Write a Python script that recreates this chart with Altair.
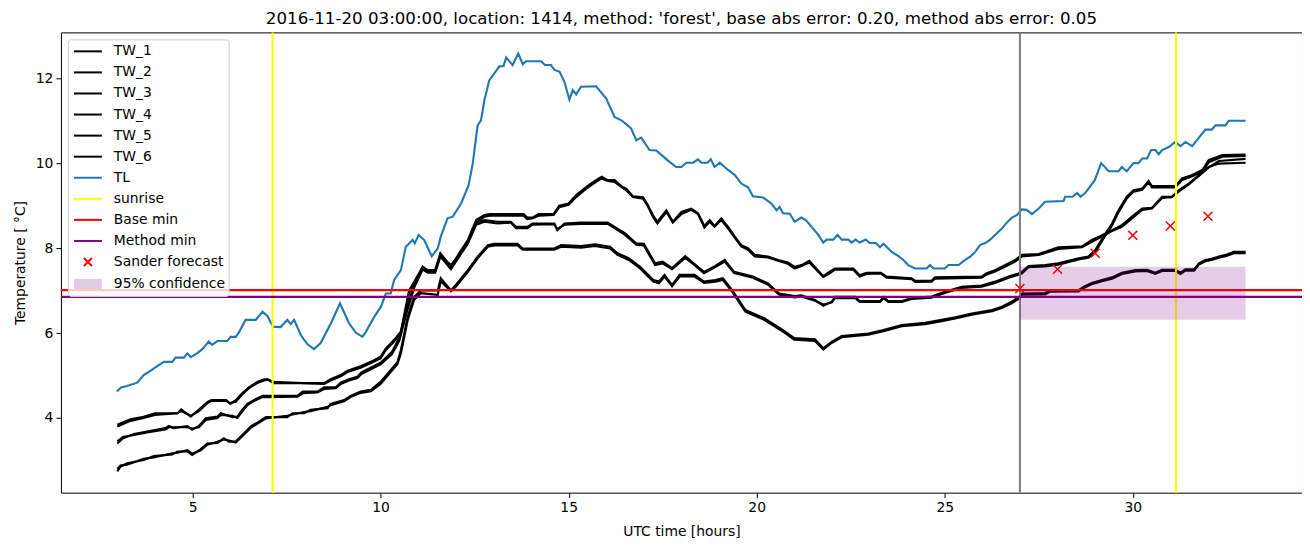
import altair as alt
import pandas as pd

# ---------------- data ----------------
hours_a = [3.0, 3.35, 3.7, 4.0, 4.6, 4.7, 4.95, 5.17, 5.4, 5.5,
           5.9, 6.0, 6.15, 6.32, 6.5, 6.72, 6.9, 7.0, 7.15, 8.5,
           8.67, 8.94, 9.12, 9.47, 9.83, 10.0, 10.14, 10.36, 10.54, 10.67,
           10.76, 10.89, 11.12, 11.25, 11.45, 11.59, 11.87, 12.09, 12.32, 12.54,
           12.76, 12.9, 13.8, 13.9, 14.05, 14.2, 14.6, 14.75, 15.0, 15.2,
           15.5, 15.73, 15.88, 16.04, 16.22, 16.4, 16.53, 16.71, 16.98, 17.11,
           17.24, 17.36, 17.6, 17.77, 18.0, 18.26, 18.44, 18.61, 18.75, 18.88,
           19.06, 19.24, 19.42, 19.59, 19.77, 19.95, 20.3, 20.57, 20.83, 21.01,
           21.19, 21.4, 21.77, 21.9, 22.08, 22.57, 22.74, 22.92, 23.3, 23.46,
           24.12, 24.21, 24.65, 24.74, 25.98, 26.1, 26.34, 26.6, 26.87, 27.05,
           27.5, 28.02, 28.65, 28.91, 29.13, 29.45, 29.71, 29.98, 30.25, 30.51,
           30.78, 31.04, 31.22, 31.49, 31.76, 32.02, 32.29, 33.0]
tw_1 = [3.84, 3.97, 4.03, 4.11, 4.11, 4.2, 4.03, 4.2, 4.38, 4.42,
        4.42, 4.33, 4.42, 4.58, 4.72, 4.85, 4.91, 4.91, 4.82, 4.82,
        4.91, 5.01, 5.11, 5.22, 5.36, 5.44, 5.64, 5.84, 6.03, 6.62,
        7.01, 7.2, 7.56, 7.48, 7.48, 7.88, 7.56, 7.88, 8.19, 8.66,
        8.78, 8.8, 8.8, 8.72, 8.72, 8.8, 8.8, 9.0, 9.05, 9.25,
        9.46, 9.6, 9.68, 9.6, 9.6, 9.46, 9.4, 9.22, 9.2, 9.01,
        8.78, 8.62, 8.89, 8.62, 8.85, 8.93, 8.82, 8.52, 8.66, 8.52,
        8.7, 8.5, 8.27, 8.07, 8.0, 7.84, 7.8, 7.72, 7.66, 7.56,
        7.6, 7.7, 7.34, 7.42, 7.52, 7.52, 7.36, 7.42, 7.42, 7.33,
        7.29, 7.23, 7.23, 7.31, 7.33, 7.4, 7.48, 7.6, 7.72, 7.84,
        7.86, 8.02, 8.04, 8.19, 8.28, 8.42, 8.54, 8.74, 8.93, 8.95,
        9.21, 9.21, 9.36, 9.52, 9.72, 9.91, 9.99, 10.01]
tw_2 = [3.8, 3.93, 4.0, 4.07, 4.11, 4.16, 4.05, 4.16, 4.35, 4.4,
        4.4, 4.35, 4.38, 4.55, 4.7, 4.82, 4.88, 4.9, 4.85, 4.8,
        4.88, 4.98, 5.08, 5.18, 5.33, 5.4, 5.6, 5.8, 6.0, 6.55,
        6.95, 7.15, 7.5, 7.44, 7.44, 7.82, 7.6, 7.84, 8.15, 8.6,
        8.74, 8.76, 8.76, 8.68, 8.7, 8.76, 8.78, 8.96, 9.02, 9.2,
        9.42, 9.56, 9.64, 9.58, 9.56, 9.44, 9.36, 9.2, 9.16, 8.98,
        8.74, 8.58, 8.85, 8.6, 8.8, 8.9, 8.8, 8.48, 8.62, 8.5,
        8.66, 8.46, 8.24, 8.04, 7.96, 7.8, 7.78, 7.7, 7.63, 7.52,
        7.58, 7.66, 7.32, 7.38, 7.49, 7.49, 7.33, 7.39, 7.4, 7.3,
        7.27, 7.2, 7.21, 7.28, 7.3, 7.37, 7.45, 7.56, 7.68, 7.8,
        7.84, 7.98, 8.02, 8.15, 8.25, 8.4, 8.5, 8.7, 8.9, 8.93,
        9.18, 9.2, 9.33, 9.5, 9.7, 9.9, 10.05, 10.1]

hours_b = [3.0, 3.15, 3.44, 3.79, 4.28, 4.37, 4.5, 4.86, 4.99, 5.17,
           5.35, 5.66, 5.75, 6.06, 6.19, 6.32, 6.46, 6.63, 6.86, 7.79,
           7.93, 8.32, 8.5, 8.81, 8.94, 9.16, 9.38, 9.5, 10.0, 10.3,
           10.5, 10.7, 10.9, 11.12, 11.25, 11.45, 11.59, 11.87, 12.09, 12.32,
           12.54, 12.76, 13.11, 13.46, 13.6, 13.9, 14.04, 14.62, 14.7, 14.89,
           15.33, 16.04, 16.22, 16.5, 16.8, 17.0, 17.3, 17.5, 17.75, 18.1,
           18.3, 18.6, 18.9, 19.15, 19.4, 19.9, 20.3, 20.6, 21.01, 21.19,
           21.55, 21.77, 22.0, 22.08, 22.62, 22.74, 23.28, 23.37, 23.5, 23.86,
           24.12, 24.65, 25.0, 25.45, 25.98, 26.34, 26.7, 26.96, 27.05, 27.23,
           27.67, 28.02, 28.56, 28.82, 29.0, 29.22, 29.45, 29.62, 29.84, 30.02,
           30.25, 30.42, 30.51, 31.13, 31.31, 31.58, 31.85, 32.02, 32.38, 33.0]
tw_3 = [3.4, 3.52, 3.62, 3.68, 3.76, 3.81, 3.76, 3.81, 3.72, 3.81,
        3.99, 4.03, 4.11, 4.02, 4.03, 4.19, 4.33, 4.42, 4.52, 4.52,
        4.62, 4.62, 4.72, 4.72, 4.83, 4.91, 4.97, 5.08, 5.3, 5.55,
        5.9, 6.6, 7.15, 7.56, 7.45, 7.45, 7.85, 7.52, 7.85, 8.15,
        8.6, 8.66, 8.62, 8.62, 8.5, 8.5, 8.58, 8.58, 8.42, 8.58,
        8.6, 8.6, 8.5, 8.35, 8.11, 8.1, 7.64, 7.68, 7.53, 7.81,
        7.66, 7.44, 7.58, 7.72, 7.44, 7.33, 7.17, 6.93, 6.87, 6.89,
        6.78, 6.64, 6.74, 6.85, 6.85, 6.75, 6.75, 6.85, 6.75, 6.75,
        6.83, 6.86, 6.97, 7.09, 7.12, 7.21, 7.33, 7.4, 7.44, 7.58,
        7.6, 7.64, 7.76, 7.8, 7.95, 8.27, 8.58, 8.89, 9.21, 9.36,
        9.4, 9.58, 9.46, 9.46, 9.64, 9.72, 9.84, 10.07, 10.19, 10.2]
tw_4 = [3.45, 3.55, 3.6, 3.66, 3.73, 3.78, 3.78, 3.78, 3.75, 3.78,
        3.95, 4.0, 4.07, 4.05, 4.0, 4.15, 4.3, 4.4, 4.49, 4.5,
        4.58, 4.6, 4.68, 4.7, 4.8, 4.88, 4.94, 5.04, 5.26, 5.5,
        5.82, 6.5, 7.08, 7.5, 7.42, 7.42, 7.8, 7.5, 7.8, 8.1,
        8.55, 8.62, 8.58, 8.6, 8.47, 8.47, 8.55, 8.56, 8.45, 8.55,
        8.57, 8.57, 8.47, 8.31, 8.08, 8.06, 7.6, 7.64, 7.5, 7.77,
        7.63, 7.41, 7.55, 7.68, 7.41, 7.3, 7.14, 6.9, 6.84, 6.86,
        6.76, 6.67, 6.72, 6.82, 6.82, 6.73, 6.73, 6.82, 6.73, 6.73,
        6.8, 6.83, 6.94, 7.06, 7.09, 7.18, 7.3, 7.37, 7.4, 7.55,
        7.57, 7.61, 7.73, 7.77, 7.9, 8.22, 8.53, 8.84, 9.17, 9.33,
        9.37, 9.55, 9.43, 9.43, 9.6, 9.69, 9.8, 10.02, 10.15, 10.17]

hours_c = [3.0, 3.08, 3.26, 3.7, 3.97, 4.46, 4.6, 4.86, 4.99, 5.21,
           5.39, 5.66, 5.83, 5.97, 6.15, 6.37, 6.55, 6.72, 6.95, 7.52,
           7.66, 7.97, 8.14, 8.59, 8.67, 9.03, 9.2, 9.47, 9.74, 10.0,
           10.27, 10.45, 10.54, 10.72, 10.89, 11.07, 11.52, 11.6, 11.87, 12.0,
           12.32, 12.58, 12.85, 13.02, 13.64, 13.78, 14.62, 14.8, 15.33, 15.7,
           16.1, 16.3, 16.6, 16.9, 17.25, 17.4, 17.55, 17.75, 17.95, 18.35,
           18.6, 18.9, 19.1, 19.35, 19.7, 20.2, 20.7, 21.0, 21.55, 21.77,
           22.0, 22.26, 22.97, 23.37, 23.86, 24.48, 24.92, 25.28, 25.72, 26.26,
           26.52, 26.78, 27.0, 27.05, 27.67, 27.8, 28.56, 28.7, 28.91, 29.18,
           29.45, 29.71, 30.07, 30.38, 30.6, 30.78, 31.13, 31.27, 31.4, 31.63,
           31.76, 31.93, 32.1, 32.29, 32.47, 32.69, 33.0]
tw_5 = [2.74, 2.85, 2.93, 3.01, 3.1, 3.14, 3.21, 3.21, 3.13, 3.26,
        3.4, 3.41, 3.52, 3.44, 3.45, 3.64, 3.8, 3.89, 4.02, 4.02,
        4.11, 4.11, 4.19, 4.23, 4.33, 4.42, 4.52, 4.62, 4.66, 4.85,
        5.13, 5.32, 5.6, 6.38, 6.85, 7.0, 7.0, 7.29, 7.01, 7.13,
        7.48, 7.8, 8.07, 8.1, 8.1, 7.99, 7.99, 8.07, 8.05, 8.09,
        8.03, 7.88, 7.76, 7.56, 7.25, 7.21, 7.37, 7.13, 7.37, 7.37,
        7.21, 7.25, 7.29, 7.01, 6.54, 6.35, 6.07, 5.88, 5.85, 5.64,
        5.8, 5.93, 5.99, 6.07, 6.19, 6.24, 6.31, 6.37, 6.46, 6.54,
        6.62, 6.74, 6.86, 6.93, 6.94, 7.01, 7.01, 7.09, 7.18, 7.25,
        7.31, 7.42, 7.48, 7.49, 7.42, 7.49, 7.49, 7.42, 7.5, 7.5,
        7.64, 7.72, 7.75, 7.8, 7.84, 7.91, 7.91]
tw_6 = [2.8, 2.88, 2.9, 3.04, 3.07, 3.17, 3.18, 3.24, 3.16, 3.23,
        3.37, 3.44, 3.49, 3.47, 3.42, 3.61, 3.77, 3.86, 3.99, 4.05,
        4.08, 4.14, 4.16, 4.26, 4.3, 4.39, 4.49, 4.59, 4.63, 4.8,
        5.08, 5.27, 5.52, 6.3, 6.78, 6.94, 6.9, 7.22, 6.98, 7.09,
        7.44, 7.76, 8.03, 8.06, 8.06, 7.96, 7.96, 8.03, 8.01, 8.05,
        7.99, 7.84, 7.72, 7.52, 7.21, 7.17, 7.33, 7.1, 7.33, 7.33,
        7.18, 7.21, 7.25, 6.97, 6.5, 6.31, 6.03, 5.84, 5.81, 5.61,
        5.77, 5.9, 5.96, 6.04, 6.16, 6.21, 6.28, 6.34, 6.43, 6.51,
        6.59, 6.7, 6.82, 6.9, 6.91, 6.97, 6.98, 7.06, 7.15, 7.22,
        7.28, 7.39, 7.45, 7.46, 7.39, 7.46, 7.46, 7.39, 7.47, 7.47,
        7.61, 7.69, 7.72, 7.77, 7.81, 7.88, 7.88]

tl_hours = [2.99, 3.1, 3.26, 3.53, 3.7, 3.88, 4.06, 4.24, 4.46, 4.55,
            4.77, 4.86, 4.95, 5.12, 5.26, 5.43, 5.52, 5.66, 5.92, 6.01,
            6.15, 6.23, 6.41, 6.68, 6.86, 6.99, 7.14, 7.34, 7.52, 7.61,
            7.7, 7.88, 8.05, 8.23, 8.41, 8.68, 8.92, 9.16, 9.34, 9.52,
            9.61, 9.83, 10.01, 10.14, 10.27, 10.36, 10.54, 10.67, 10.85, 10.91,
            11.01, 11.16, 11.36, 11.52, 11.6, 11.78, 11.92, 12.14, 12.34, 12.45,
            12.58, 12.67, 12.76, 12.89, 13.02, 13.16, 13.27, 13.34, 13.51, 13.66,
            13.78, 13.87, 14.27, 14.37, 14.53, 14.62, 14.76, 14.89, 15.02, 15.11,
            15.2, 15.33, 15.73, 16.0, 16.22, 16.4, 16.53, 16.66, 16.8, 16.93,
            17.15, 17.33, 17.51, 17.68, 17.86, 18.0, 18.13, 18.31, 18.44, 18.53,
            18.69, 18.78, 18.88, 19.02, 19.24, 19.42, 19.59, 19.77, 19.9, 20.17,
            20.39, 20.53, 20.61, 20.7, 20.88, 21.01, 21.19, 21.32, 21.46, 21.64,
            21.77, 21.86, 22.04, 22.15, 22.26, 22.44, 22.52, 22.63, 22.74, 22.9,
            23.0, 23.17, 23.28, 23.37, 23.59, 23.77, 23.9, 24.03, 24.21, 24.52,
            24.61, 24.7, 25.0, 25.1, 25.37, 25.54, 25.68, 25.81, 25.94, 26.08,
            26.21, 26.34, 26.52, 26.65, 26.78, 26.92, 27.05, 27.18, 27.32, 27.5,
            27.67, 28.16, 28.2, 28.4, 28.52, 28.61, 28.74, 28.99, 29.16, 29.36,
            29.62, 29.71, 29.84, 30.02, 30.15, 30.25, 30.38, 30.49, 30.6, 30.69,
            30.78, 30.96, 31.13, 31.27, 31.4, 31.58, 31.76, 31.93, 32.1, 32.2,
            32.47, 32.55, 33.0]
tl_values = [4.62, 4.72, 4.75, 4.83, 5.01, 5.11, 5.22, 5.32, 5.32, 5.42,
             5.42, 5.52, 5.43, 5.52, 5.62, 5.8, 5.72, 5.81, 5.81, 5.91,
             5.91, 6.01, 6.31, 6.31, 6.5, 6.4, 6.15, 6.14, 6.31, 6.21,
             6.31, 5.95, 5.74, 5.62, 5.77, 6.23, 6.7, 6.23, 6.01, 5.91,
             6.03, 6.38, 6.62, 6.93, 6.93, 7.25, 7.48, 8.03, 8.19, 8.11,
             8.31, 8.19, 7.81, 7.99, 8.27, 8.7, 8.74, 9.05, 9.48, 9.99,
             10.89, 11.01, 11.48, 11.95, 12.11, 12.28, 12.29, 12.49, 12.31, 12.58,
             12.33, 12.4, 12.4, 12.31, 12.31, 12.2, 12.15, 11.91, 11.5, 11.72,
             11.62, 11.8, 11.81, 11.52, 11.09, 11.01, 10.92, 10.82, 10.54, 10.6,
             10.31, 10.3, 10.16, 10.03, 9.91, 9.91, 10.01, 10.01, 10.09, 10.01,
             10.01, 10.09, 9.91, 10.01, 9.84, 9.72, 9.52, 9.43, 9.22, 9.19,
             9.05, 8.89, 8.97, 8.82, 8.81, 8.62, 8.72, 8.65, 8.5, 8.31,
             8.13, 8.2, 8.2, 8.31, 8.2, 8.2, 8.13, 8.2, 8.13, 8.2,
             8.12, 8.12, 8.02, 8.1, 7.91, 7.81, 7.72, 7.6, 7.52, 7.52,
             7.6, 7.52, 7.52, 7.6, 7.6, 7.72, 7.8, 7.91, 8.07, 8.12,
             8.2, 8.31, 8.46, 8.6, 8.71, 8.78, 8.91, 8.9, 8.8, 8.93,
             9.09, 9.11, 9.21, 9.21, 9.3, 9.21, 9.3, 9.6, 10.0, 9.81,
             9.81, 9.91, 9.81, 10.0, 10.0, 10.11, 10.11, 10.31, 10.31, 10.21,
             10.31, 10.38, 10.5, 10.4, 10.5, 10.4, 10.6, 10.79, 10.79, 10.89,
             10.89, 11.0, 11.0]

sunrise_hours = [7.13, 31.15]
now_hour = [27.0]
base_min = [7.01]
method_min = [6.85]
forecast_hours = [27, 28, 29, 30, 31, 32]
forecast_values = [7.05, 7.5, 7.88, 8.3, 8.52, 8.75]
conf_start = [27.0]
conf_end = [33.0]
conf_low = [6.31]
conf_high = [7.56]

legend_labels = ["TW_1", "TW_2", "TW_3", "TW_4", "TW_5", "TW_6", "TL",
                 "sunrise", "Base min", "Method min", "Sander forecast",
                 "95% confidence"]
legend_colors = ["black"] * 6 + ["#1f77b4", "#ffff00", "#ff0000", "#800080",
                                 "#ff0000", "#e3cbe3"]

TITLE = ("2016-11-20 03:00:00, location: 1414, method: 'forest', "
         "base abs error: 0.20, method abs error: 0.05")
FONT = "DejaVu Sans"
LW = 2.1

# ---------------- tables ----------------
def frame(hours, values, name):
    rows = [{"hour": h, "temp": v, "series": name} for h, v in zip(hours, values)]
    return pd.DataFrame(rows)

tw_df = pd.concat([
    frame(hours_a, tw_1, "TW_1"), frame(hours_a, tw_2, "TW_2"),
    frame(hours_b, tw_3, "TW_3"), frame(hours_b, tw_4, "TW_4"),
    frame(hours_c, tw_5, "TW_5"), frame(hours_c, tw_6, "TW_6"),
], ignore_index=True)
tl_df = frame(tl_hours, tl_values, "TL")
fc_df = frame(forecast_hours, forecast_values, "Sander forecast")
conf_df = pd.DataFrame({"x1": conf_start, "x2": conf_end,
                        "lo": conf_low, "hi": conf_high})

xscale = alt.Scale(domain=[1.5, 34.5], nice=False, zero=False)
yscale = alt.Scale(domain=[2.24, 13.08], nice=False, zero=False)
xaxis = alt.Axis(values=[5, 10, 15, 20, 25, 30], title="UTC time [hours]")
yaxis = alt.Axis(values=[4, 6, 8, 10, 12], title="Temperature [ °C]")

def X(field="hour"):
    return alt.X(f"{field}:Q", scale=xscale, axis=xaxis)

def Y(field="temp"):
    return alt.Y(f"{field}:Q", scale=yscale, axis=yaxis)

# legend symbol paths (unit square scaled by sqrt(size)/2)
line_path = "M-1.75,0H1.75"
cross_path = "M-0.5,-0.5L0.5,0.5M-0.5,0.5L0.5,-0.5"
rect_path = "".join(f"M-1.75,{y}H1.75" for y in
                    ["-0.5", "-0.3", "-0.1", "0.1", "0.3", "0.5"])
legend_shapes = [line_path] * 10 + [cross_path, rect_path]

legend = alt.Legend(
    title=None, orient="none", legendX=7, legendY=7,
    padding=3, fillColor="rgba(255,255,255,0.8)", strokeColor="#cccccc",
    cornerRadius=3, rowPadding=5.1, symbolSize=256, symbolStrokeWidth=2,
    symbolOffset=8, labelOffset=17, labelFont=FONT, labelFontSize=13.9,
    labelColor="black", labelLimit=400,
)

tw_layer = alt.Chart(tw_df).mark_line(color="black", strokeWidth=LW).encode(
    x=X(), y=Y(), detail="series:N", order="hour:Q")
tl_layer = alt.Chart(tl_df).mark_line(color="#1f77b4", strokeWidth=LW).encode(
    x=X(), y=Y(), order="hour:Q")
sun_layer = alt.Chart(pd.DataFrame({"hour": sunrise_hours})).mark_rule(
    color="#ffff00", strokeWidth=LW).encode(x=X())
now_layer = alt.Chart(pd.DataFrame({"hour": now_hour})).mark_rule(
    color="#808080", strokeWidth=LW).encode(x=X())
base_layer = alt.Chart(pd.DataFrame({"temp": base_min})).mark_rule(
    color="#ff0000", strokeWidth=LW).encode(y=Y())
meth_layer = alt.Chart(pd.DataFrame({"temp": method_min})).mark_rule(
    color="#800080", strokeWidth=LW).encode(y=Y())
fc_layer = alt.Chart(fc_df).mark_point(filled=False, strokeWidth=1.5, size=324,
                                       opacity=1).encode(
    x=X(), y=Y(),
    color=alt.Color("series:N", scale=alt.Scale(domain=legend_labels,
                                                range=legend_colors), legend=legend),
    shape=alt.Shape("series:N", scale=alt.Scale(domain=legend_labels,
                                                range=legend_shapes), legend=legend),
)
conf_layer = alt.Chart(conf_df).mark_rect(color="#800080", opacity=0.2).encode(
    x=X("x1"), x2="x2:Q", y=Y("lo"), y2="hi:Q")

chart = alt.layer(
    tw_layer, tl_layer, sun_layer, now_layer, base_layer, meth_layer,
    fc_layer, conf_layer,
).properties(
    width=1243, height=461,
    autosize=alt.AutoSizeParams(type="none"),
    padding={"left": 53, "top": 24, "right": 0, "bottom": 50},
    title=alt.Title(TITLE, font=FONT, fontSize=16.7, fontWeight="normal",
                    color="black", anchor="middle", offset=4),
).configure_view(
    stroke="black", strokeWidth=1,
).configure_axis(
    grid=False, domain=False, labelFont=FONT, labelFontSize=13.9,
    labelColor="black", titleFont=FONT, titleFontSize=13.9,
    titleFontWeight="normal", titleColor="black", tickColor="black",
    tickSize=5, tickWidth=1, labelPadding=3,
).configure_axisX(
    titlePadding=10,
).configure_axisY(
    titlePadding=8,
)

chart.save("out.html", embed_options={"renderer": "svg", "actions": False})
